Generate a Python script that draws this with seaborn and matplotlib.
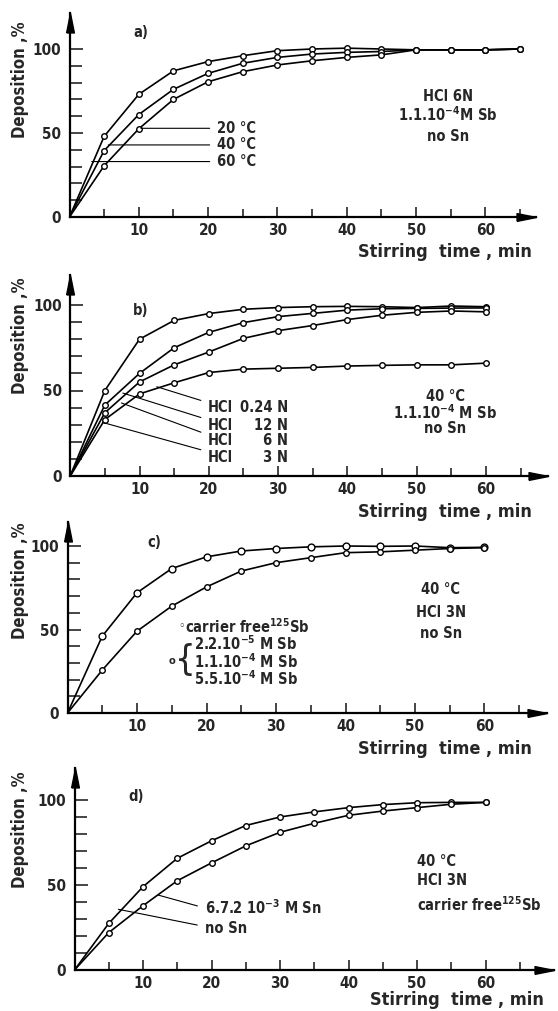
#!/usr/bin/env python3
# Imports
import matplotlib
matplotlib.use('Agg')
import matplotlib.pyplot as plt
import seaborn as sns

"""
Deposition of Sb vs. stirring time, four panels a) - d)
"""

W, H = 558, 1011
FONT = ['DejaVu Sans']

# Stirring time, min
TIME_A = [0, 5, 10, 15, 20, 25, 30, 35, 40, 45, 50, 55, 60, 65]
TIME = [0, 5, 10, 15, 20, 25, 30, 35, 40, 45, 50, 55, 60]

# a) HCl 6N, 1.1e-4 M Sb, no Sn
A_60C = [0, 48, 73, 87, 92.5, 96, 99, 100, 100.5, 100, 99.5, 99.5, 99.5, 100]
A_40C = [0, 39.5, 61, 76, 85.5, 91.5, 95, 97, 98, 98.5, 99.5, 99.5, 99.5, 100]
A_20C = [0, 30.5, 52.5, 70, 80.5, 86.5, 90.5, 93, 95, 96.5, 99.5, 99.5, 99.5, 100]
A_LABELS = ['20 °C', '40 °C', '60 °C']

# b) 40 C, 1.1e-4 M Sb, no Sn
B_3N = [0, 50, 80, 91, 95, 97.5, 98.5, 99, 99.2, 99, 98.5, 99.4, 99]
B_6N = [0, 41.5, 60, 75, 84, 89.7, 93.2, 95.1, 97, 97.8, 98, 98.2, 98.3]
B_12N = [0, 37, 55, 65, 72.5, 80.5, 85, 88, 91.5, 94, 95.7, 96.5, 96]
B_024N = [0, 33, 48, 54.5, 60.5, 62.5, 63, 63.5, 64.3, 64.7, 65, 65, 66]
B_LABELS = ['0.24 N', '12 N', '6 N', '3 N']

# c) 40 C, HCl 3N, no Sn
C_CARRIER = [0, 46, 72, 86.5, 93.5, 97, 98.5, 99.5, 100, 99.8, 100, 99, 99.2]
C_FREE = [0, 25.7, 49, 64, 75.5, 85, 90, 93, 96, 96.5, 97.5, 98.5, 99]
C_LABELS = ['2.2.10$^{-5}$ M Sb', '1.1.10$^{-4}$ M Sb', '5.5.10$^{-4}$ M Sb']

# d) 40 C, HCl 3N, carrier free 125Sb
D_NO_SN = [0, 27.4, 49, 65.7, 76, 85, 90, 93, 95.5, 97.3, 98.4, 98.6, 98.6]
D_SN = [0, 22, 37.8, 52.5, 63, 73, 81, 86.3, 91, 93.5, 95.5, 97.5, 98.6]

# Arrow heads for the axes
RIGHT_ARROW = [(-2.5, -0.5), (0, 0), (-2.5, 0.5), (-2.5, -0.5)]
UP_ARROW = [(-0.5, -2.5), (0, 0), (0.5, -2.5), (-0.5, -2.5)]


def make_axes(fig, x0, y0, pxx, pxy, xmax, ymax):
    """
    Place an axes so that data (0, 0) lands on pixel (x0, y0)
    """
    ax = fig.add_axes([x0 / W, 1 - y0 / H, xmax * pxx / W, ymax * pxy / H])
    ax.set_xlim(0, xmax)
    ax.set_ylim(0, ymax)
    ax.set_facecolor('none')

    # Spines, only left and bottom with arrow heads
    for side in ['top', 'right']:
        ax.spines[side].set_visible(False)
    for side in ['left', 'bottom']:
        ax.spines[side].set_linewidth(1.6)
        ax.spines[side].set_color('black')
    ax.plot(1, 0, marker=RIGHT_ARROW, ms=28, color='black',
            transform=ax.transAxes, clip_on=False)
    ax.plot(0, 1, marker=UP_ARROW, ms=28, color='black',
            transform=ax.transAxes, clip_on=False)

    # Ticks
    ax.set_xticks(range(10, 61, 10))
    ax.set_xticks([t for t in range(5, 70, 10) if t < xmax], minor=True)
    ax.set_yticks([0, 50, 100])
    ax.set_yticks(range(10, 100, 10), minor=True)
    ax.tick_params(axis='x', which='major', direction='in', length=7.5,
                   width=1.2, pad=4, labelsize=11)
    ax.tick_params(axis='x', which='minor', direction='in', length=6, width=1.2)
    ax.tick_params(axis='y', which='major', direction='in', length=9.5,
                   width=1.2, pad=6, labelsize=11)
    ax.tick_params(axis='y', which='minor', direction='in', length=8.5, width=1.2)
    for lab in ax.get_xticklabels() + ax.get_yticklabels():
        lab.set_fontweight('bold')

    # Axis labels, positioned in pixels later
    ax.set_ylabel('Deposition ,%', fontsize=12, fontweight='bold')
    ax.set_xlabel('Stirring  time , min', fontsize=13, fontweight='bold')
    return ax


def label_coords(ax, x0, y0, pxx, pxy, xmax, ymax, ylab_px, xlab_px):
    w = xmax * pxx
    h = ymax * pxy
    ax.yaxis.set_label_coords((ylab_px[0] - x0) / w, (y0 - ylab_px[1]) / h)
    ax.xaxis.set_label_coords((xlab_px[0] - x0) / w, (y0 - xlab_px[1]) / h)


def curve(ax, time, values, marker='o', size=16):
    """
    Draw a curve starting at the origin, with open circles on the measured points
    """
    sns.lineplot(x=time, y=values, ax=ax, color='black', linewidth=1.2,
                 legend=False, zorder=2)
    sns.scatterplot(x=time[1:], y=values[1:], ax=ax, marker=marker, s=size,
                    color='white', edgecolor='black', linewidth=1.0,
                    legend=False, zorder=3, clip_on=False)


def text(ax, x, y, s, **kw):
    kw.setdefault('fontsize', 10.5)
    kw.setdefault('fontweight', 'bold')
    kw.setdefault('va', 'center')
    return ax.text(x, y, s, **kw)


def leader(ax, s, xy, xytext, relpos=(0, 0.5)):
    ax.annotate(s, xy=xy, xytext=xytext, fontsize=10.5, fontweight='bold',
                va='center', ha='left',
                arrowprops=dict(arrowstyle='-', color='black', lw=0.8,
                                shrinkA=3, shrinkB=0, relpos=relpos))


def main():
    # Set grid style
    sns.set_style('ticks')
    plt.rcParams['font.family'] = FONT
    plt.rcParams['font.stretch'] = 'condensed'
    plt.rcParams['mathtext.fontset'] = 'custom'
    plt.rcParams['mathtext.rm'] = 'DejaVu Sans:bold:stretch=condensed'
    plt.rcParams['mathtext.it'] = 'DejaVu Sans:bold:stretch=condensed'
    plt.rcParams['mathtext.bf'] = 'DejaVu Sans:bold:stretch=condensed'
    plt.rcParams['mathtext.default'] = 'rm'

    fig = plt.figure(figsize=(W / 100, H / 100), dpi=100)

    # ---- a)
    geo = (69.5, 217, 6.93, 1.68, 67.3, 121.4)
    ax = make_axes(fig, *geo)
    label_coords(ax, *geo, (29, 80), (445, 243))
    curve(ax, TIME_A, A_60C)
    curve(ax, TIME_A, A_40C)
    curve(ax, TIME_A, A_20C)
    text(ax, 9.2, 110, 'a)')
    leader(ax, A_LABELS[0], (10.3, 52.8), (21.3, 52.8))
    leader(ax, A_LABELS[1], (5.6, 42.9), (21.3, 42.9))
    leader(ax, A_LABELS[2], (3.2, 33.0), (21.3, 33.0))
    text(ax, 54.6, 71.6, 'HCl 6N', ha='center')
    text(ax, 54.6, 60.7, '1.1.10$^{-4}$M Sb', ha='center')
    text(ax, 54.6, 47.8, 'no Sn', ha='center')

    # ---- b)
    geo = (70.2, 476, 6.93, 1.71, 69, 117.5)
    ax = make_axes(fig, *geo)
    label_coords(ax, *geo, (29, 336), (445, 503))
    curve(ax, TIME, B_3N)
    curve(ax, TIME, B_6N)
    curve(ax, TIME, B_12N)
    curve(ax, TIME, B_024N)
    text(ax, 9.1, 97, 'b)')
    starts = [(12.5, 52.2), (7.6, 48.5), (7.4, 42.7), (4.7, 31.3)]
    rows = [39.8, 29.8, 21.0, 11.1]
    for lab, xy, y in zip(B_LABELS, starts, rows):
        leader(ax, 'HCl', xy, (19.9, y), relpos=(0, 0.85))
        text(ax, 31.5, y, lab, ha='right')
    text(ax, 54.1, 46.5, '40 °C', ha='center')
    text(ax, 54.1, 36.8, '1.1.10$^{-4}$ M Sb', ha='center')
    text(ax, 54.1, 28.0, 'no Sn', ha='center')

    # ---- c)
    geo = (67.5, 713, 6.95, 1.67, 69, 114.4)
    ax = make_axes(fig, *geo)
    label_coords(ax, *geo, (29, 581), (445, 740))
    curve(ax, TIME, C_CARRIER, marker='o', size=24)
    curve(ax, TIME, C_FREE)
    text(ax, 11.5, 101.8, 'c)')
    text(ax, 15.9, 51.5, '◦', fontsize=9, fontweight='normal')
    text(ax, 16.9, 51.5, 'carrier free$^{125}$Sb')
    text(ax, 14.6, 31.0, 'o', fontsize=8)
    text(ax, 15.5, 31.5, '{', fontsize=26, fontweight='normal')
    for lab, y in zip(C_LABELS, [41.5, 31.0, 20.5]):
        text(ax, 18.2, y, lab)
    text(ax, 53.7, 73.7, '40 °C', ha='center')
    text(ax, 53.7, 59.9, 'HCl 3N', ha='center')
    text(ax, 53.7, 47.9, 'no Sn', ha='center')

    # ---- d)
    geo = (74.5, 970, 6.85, 1.70, 70, 118.8)
    ax = make_axes(fig, *geo)
    label_coords(ax, *geo, (29, 830), (457, 991))
    curve(ax, TIME, D_NO_SN)
    curve(ax, TIME, D_SN)
    text(ax, 7.9, 102, 'd)')
    leader(ax, '6.7.2 10$^{-3}$ M Sn', (12.2, 44.1), (19.0, 36.5))
    leader(ax, 'no Sn', (6.4, 35.7), (19.0, 24.7), relpos=(0, 0.6))
    text(ax, 50, 63.7, '40 °C')
    text(ax, 50, 52.9, 'HCl 3N')
    text(ax, 50, 38.2, 'carrier free$^{125}$Sb')

    # Save plot
    fig.savefig('out.png', dpi=100, facecolor='white')


if __name__ == "__main__":
    main()
